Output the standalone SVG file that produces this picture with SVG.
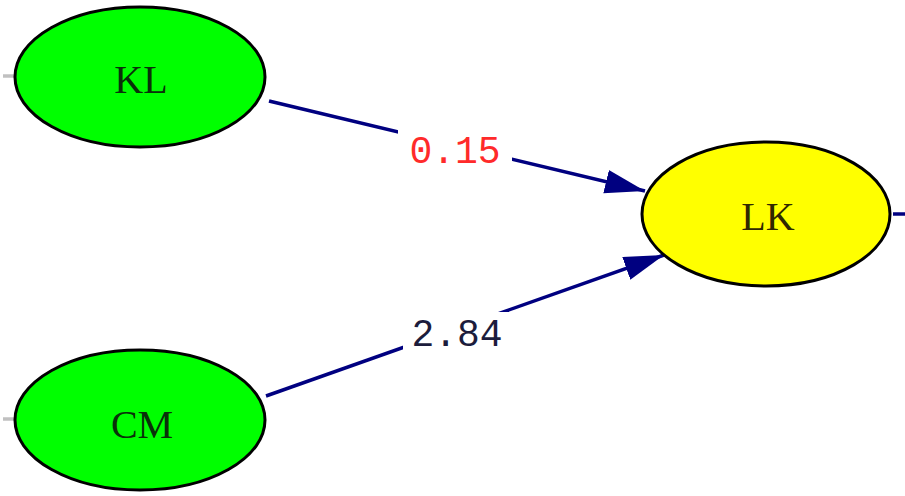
<svg xmlns="http://www.w3.org/2000/svg" width="905" height="496" viewBox="0 0 905 496">
<style>
.node{stroke:#000;stroke-width:3}
.lat{fill:#00ff00}
.end{fill:#ffff00}
.nt{font-family:"Liberation Serif",serif;font-size:40px;text-anchor:middle}
.path{stroke:#000080;stroke-width:3.5;fill:none}
.stub{stroke:#c0c0c0;stroke-width:3.5}
.lbl{font-family:"Liberation Mono",monospace;font-size:38px;text-anchor:middle}
</style>
<defs>
<marker id="ah" markerUnits="userSpaceOnUse" markerWidth="42" markerHeight="26" refX="40" refY="12" orient="auto">
<path d="M0,0 L40,12 L0,24 z" fill="#000080"/>
</marker>
</defs>
<rect width="905" height="496" fill="#fff"/>
<g id="connectors">
<line class="stub" x1="3" y1="76" x2="16" y2="76"/>
<line class="stub" x1="3" y1="419" x2="16" y2="419"/>
<line class="path" x1="269" y1="101" x2="645" y2="191" marker-end="url(#ah)"/>
<line class="path" x1="266" y1="396" x2="664" y2="255" marker-end="url(#ah)"/>
<line x1="893" y1="214" x2="905" y2="214" stroke="#000080" stroke-width="3.5"/>
<rect x="398" y="128" width="114" height="40" fill="#fff"/>
<text class="lbl" x="455" y="163" fill="#ff2a2a">0.15</text>
<rect x="403" y="312" width="114" height="40" fill="#fff"/>
<text class="lbl" x="457" y="346" fill="#1c1c3c">2.84</text>
</g>
<g id="KL">
<ellipse class="node lat" cx="140" cy="77" rx="125" ry="70"/>
<text class="nt" x="141" y="93" fill="#0a300a">KL</text>
</g>
<g id="CM">
<ellipse class="node lat" cx="140" cy="420" rx="125" ry="70"/>
<text class="nt" x="142" y="438" fill="#0a300a">CM</text>
</g>
<g id="LK">
<ellipse class="node end" cx="766" cy="214" rx="124" ry="72"/>
<text class="nt" x="768" y="230" fill="#302800">LK</text>
</g>
</svg>
